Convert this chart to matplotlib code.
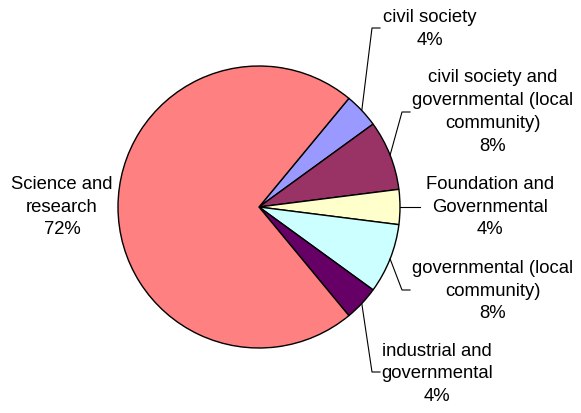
import numpy as np
import matplotlib
matplotlib.use("Agg")
import matplotlib.pyplot as plt

plt.rcParams['font.family'] = ['Liberation Sans', 'DejaVu Sans']

# data (counts, order clockwise starting from civil society)
categories = ["civil society",
              "civil society and\ngovernmental (local\ncommunity)",
              "Foundation and\nGovernmental",
              "governmental (local\ncommunity)",
              "industrial and\ngovernmental",
              "Science and\nresearch"]
values = [1, 2, 1, 2, 1, 18]
colors = ["#9999FF", "#993366", "#FFFFCC", "#CCFFFF", "#660066", "#FF8080"]

W, H = 581, 413
fig = plt.figure(figsize=(W / 100, H / 100), dpi=100)
ax = fig.add_axes([0, 0, 1, 1])

cx, cy, r = 259, H - 207, 141
start = 50.4
wedges, _ = ax.pie(values, colors=colors, startangle=start, counterclock=False,
                   center=(cx, cy), radius=r, frame=True,
                   wedgeprops=dict(edgecolor='black', linewidth=1.0))
ax.set_xlim(0, W)
ax.set_ylim(0, H)
ax.axis('off')

# label layout: text centre (px), leader elbow (px), leader end (px)
label_pos = [(430, 29), (493, 112), (490, 207), (493, 291), (437, 374), (62, 207)]
elbows = [(372, 28), (402, 112), None, (402, 290), (372, 372), None]
ends = [(380, 28), (410, 112), (420, 207), (410, 290), (380, 372), None]

total = sum(values)
for i, w in enumerate(wedges):
    pct = f"{values[i] / total * 100:.0f}%"
    tx, ty = label_pos[i]
    ax.text(tx, H - ty, categories[i] + "\n" + pct, ha='center', va='center',
            multialignment='center', fontsize=13.3, linespacing=1.46)
    if ends[i] is None:
        continue
    mid = np.deg2rad((w.theta1 + w.theta2) / 2)
    sx, sy = cx + r * np.cos(mid), cy + r * np.sin(mid)
    xs, ys = [sx], [sy]
    if elbows[i] is not None:
        xs.append(elbows[i][0]); ys.append(H - elbows[i][1])
    xs.append(ends[i][0]); ys.append(H - ends[i][1])
    ax.plot(xs, ys, color='black', linewidth=0.8)

fig.savefig("out.png", dpi=100)
